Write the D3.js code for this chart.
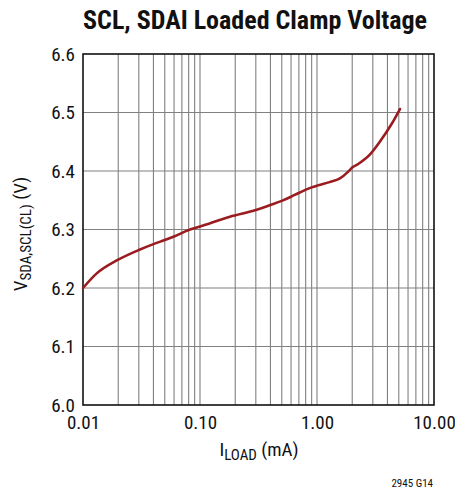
<!DOCTYPE html>
<html><head><meta charset="utf-8">
<script src="https://cdn.jsdelivr.net/npm/d3@7"></script>
<style>body{margin:0;background:#fff}svg{display:block}</style>
</head><body>
<script>
const current_mA = [0.01,0.0131,0.0198,0.03,0.04,0.05,0.06,0.08,0.1,0.18,0.295,0.4,0.5,0.6,0.69,0.9,1.0,1.28,1.57,1.85,2.0,2.25,2.8,3.5,4.3,5.12];
const voltage_V = [6.200,6.225,6.248,6.265,6.275,6.282,6.288,6.299,6.305,6.322,6.333,6.342,6.349,6.356,6.362,6.372,6.375,6.381,6.3875,6.399,6.406,6.412,6.427,6.452,6.479,6.506];
const xTicks = [0.01,0.1,1,10];
const xTickLabels = ["0.01","0.10","1.00","10.00"];
const yTicks = [6.0,6.1,6.2,6.3,6.4,6.5,6.6];

const W=455,H=492;
const m={l:83,r:21,t:54,b:87};
const font="'Liberation Sans Narrow','Roboto Condensed','Liberation Sans',Arial,sans-serif";
const svg=d3.select("body").append("svg").attr("width",W).attr("height",H);
const x=d3.scaleLog().domain([0.01,10]).range([m.l,W-m.r]);
const y=d3.scaleLinear().domain([6.0,6.6]).range([H-m.b,m.t]);

// grid
const minor=[];
for(let d=0.01;d<10;d*=10){for(let k=1;k<10;k++)minor.push(d*k);}
svg.append("g").selectAll("line").data(minor.filter(v=>v>0.0100001)).join("line")
 .attr("x1",d=>x(d)).attr("x2",d=>x(d)).attr("y1",y(6.0)).attr("y2",y(6.6))
 .attr("stroke","#808080").attr("stroke-width",1.1);
svg.append("g").selectAll("line").data(yTicks.slice(1,-1)).join("line")
 .attr("x1",x(0.01)).attr("x2",x(10)).attr("y1",d=>y(d)).attr("y2",d=>y(d))
 .attr("stroke","#808080").attr("stroke-width",1.1);
svg.append("rect").attr("x",x(0.01)).attr("y",y(6.6)).attr("width",x(10)-x(0.01)).attr("height",y(6.0)-y(6.6))
 .attr("fill","none").attr("stroke","#111").attr("stroke-width",1.6);

// axes labels
const yAxis=d3.axisLeft(y).tickValues(yTicks).tickFormat(d3.format(".1f")).tickSize(0).tickPadding(8);
const gy=svg.append("g").attr("transform",`translate(${m.l},0)`).call(yAxis);
gy.select(".domain").remove();
gy.selectAll("text").attr("font-family",font).attr("font-size",19).attr("fill","#111");
const xAxis=d3.axisBottom(x).tickValues(xTicks).tickFormat((d,i)=>xTickLabels[i]).tickSize(0).tickPadding(11);
const gx=svg.append("g").attr("transform",`translate(0,${H-m.b})`).call(xAxis);
gx.select(".domain").remove();
gx.selectAll("text").attr("font-family",font).attr("font-size",19).attr("fill","#111");

// curve
const line=d3.line().x((d,i)=>x(current_mA[i])).y(d=>y(d)).curve(d3.curveMonotoneX);
svg.append("path").attr("d",line(voltage_V)).attr("fill","none").attr("stroke","#9b1c20").attr("stroke-width",2.6).attr("stroke-linecap","round");

// title
svg.append("text").attr("x",255).attr("y",29).attr("text-anchor","middle").attr("font-family",font)
 .attr("font-weight","bold").attr("font-size",26).attr("fill","#111").text("SCL, SDAI Loaded Clamp Voltage");

// x title
const xt=svg.append("text").attr("x",259).attr("y",456).attr("text-anchor","middle").attr("font-family",font).attr("font-size",19).attr("fill","#111");
xt.append("tspan").text("I");
xt.append("tspan").attr("font-size",15).attr("dy",4).text("LOAD");
xt.append("tspan").attr("dy",-4).text(" (mA)");

// y title
const yt=svg.append("text").attr("transform","translate(27,234) rotate(-90)").attr("text-anchor","middle").attr("font-family",font).attr("font-size",19).attr("fill","#111");
yt.append("tspan").text("V");
yt.append("tspan").attr("font-size",15).attr("dy",4).text("SDA,SCL(CL)");
yt.append("tspan").attr("dy",-4).text(" (V)");

svg.append("text").attr("x",433).attr("y",487).attr("text-anchor","end").attr("font-family",font).attr("font-size",11).attr("fill","#111").text("2945 G14");
</script>
</body></html>
